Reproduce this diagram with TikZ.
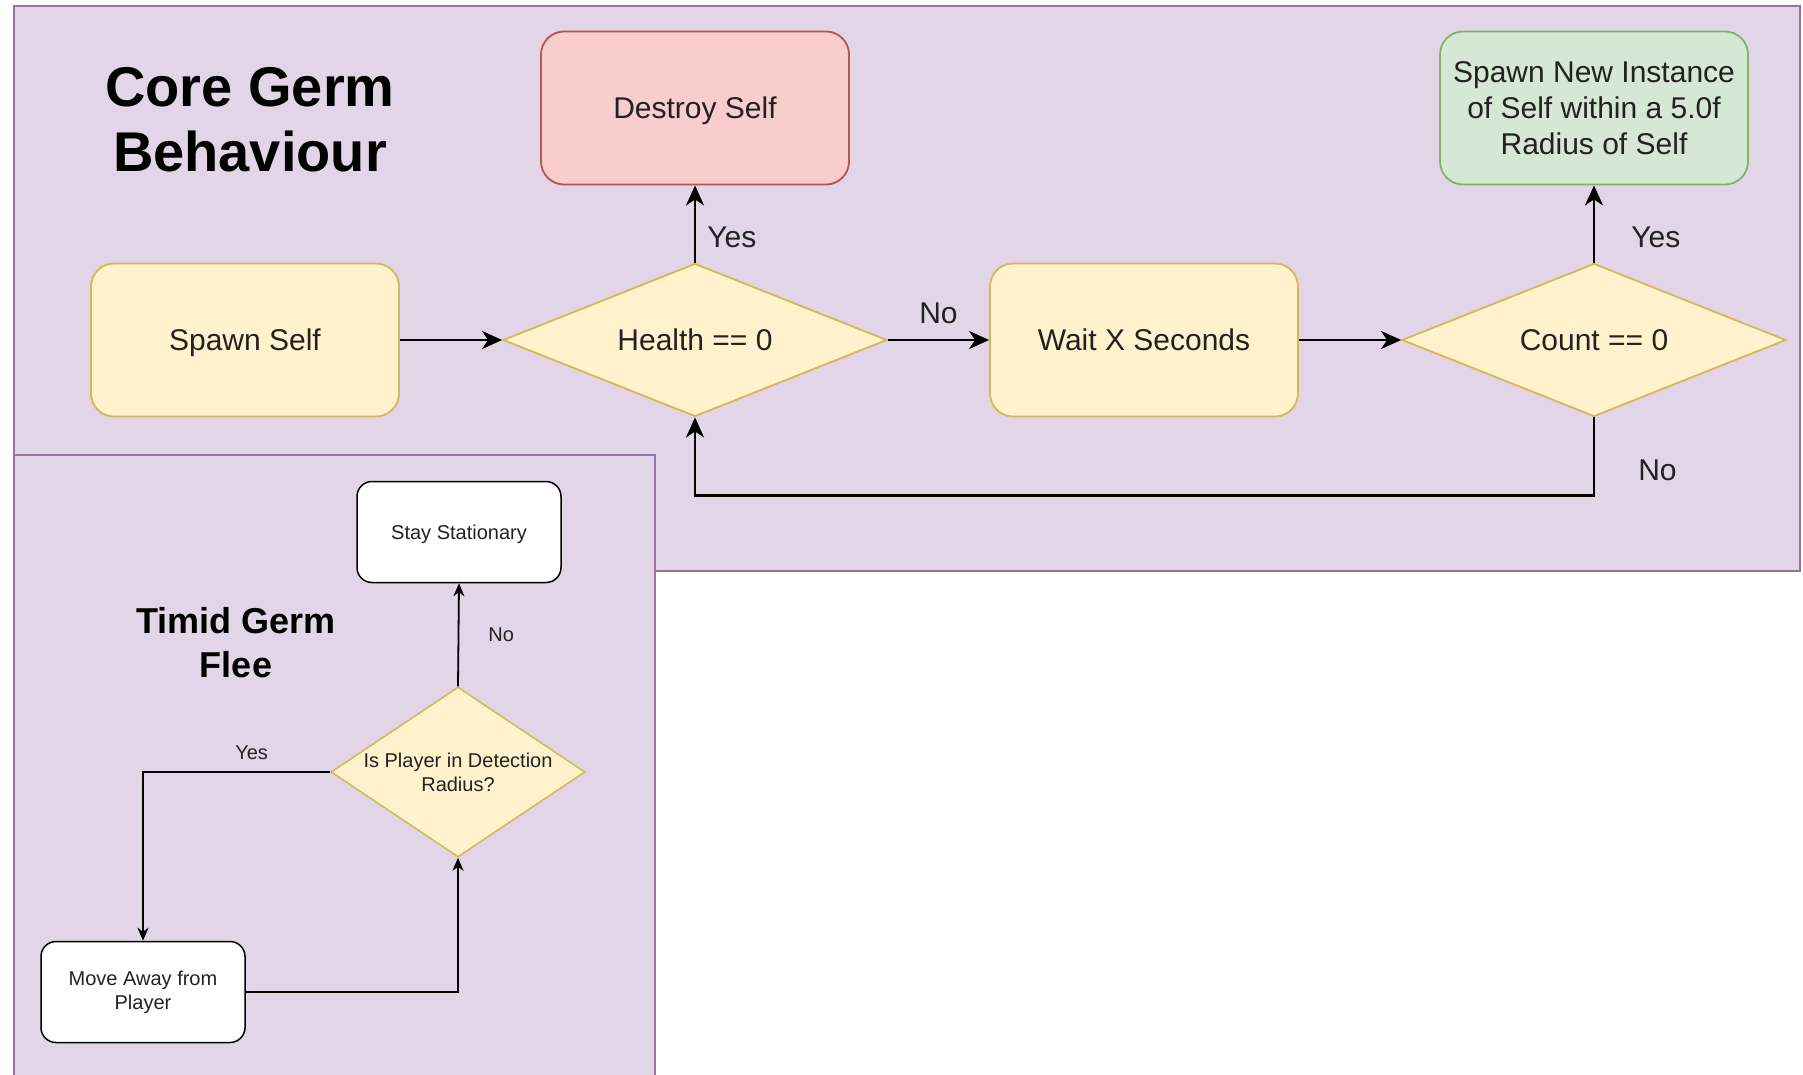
\documentclass[tikz,border=0pt]{standalone}
\usepackage{fontspec}
\setmainfont{Liberation Sans}
\usetikzlibrary{shapes.geometric,arrows.meta}
\definecolor{purpF}{HTML}{E1D5E7}
\definecolor{purpD}{HTML}{9673A6}
\definecolor{yelF}{HTML}{FFF2CC}
\definecolor{yelD}{HTML}{D6B656}
\definecolor{redF}{HTML}{F8CECC}
\definecolor{redD}{HTML}{B85450}
\definecolor{grnF}{HTML}{D5E8D4}
\definecolor{grnD}{HTML}{82B366}
\definecolor{txt}{HTML}{222222}
\tikzset{
  panel/.style={fill=purpF,draw=purpD,line width=1.6pt},
  bigbox/.style={rectangle,rounded corners=23pt,line width=1.8pt,minimum width=308pt,minimum height=153pt,
    align=center,text=txt,font=\fontsize{30}{36}\selectfont,inner sep=0pt},
  bigdia/.style={diamond,shape aspect=2.5,fill=yelF,draw=yelD,line width=1.8pt,minimum width=384pt,minimum height=153pt,
    align=center,text=txt,font=\fontsize{30}{36}\selectfont,inner sep=0pt},
  smallbox/.style={rectangle,rounded corners=15pt,fill=white,draw=black,line width=1.5pt,minimum width=204pt,minimum height=101pt,
    align=center,text=txt,font=\fontsize{20}{24}\selectfont,inner sep=0pt},
  smalldia/.style={diamond,shape aspect=1.5,fill=yelF,draw=yelD,line width=1.5pt,minimum width=254pt,minimum height=170pt,
    align=center,text=txt,font=\fontsize{20}{24}\selectfont,inner sep=0pt},
  bigline/.style={text height=21.5pt,text depth=0pt},
  smallline/.style={text height=14.3pt,text depth=0pt},
  bigarr/.style={draw=black,line width=2.6pt,-{Stealth[length=20pt,width=18pt,inset=6pt]}},
  smallarr/.style={draw=black,line width=1.8pt,-{Stealth[length=13pt,width=11pt,inset=4pt]}},
  biglbl/.style={text=txt,font=\fontsize{30}{36}\selectfont,inner sep=0pt},
  smalllbl/.style={text=txt,font=\fontsize{20}{24}\selectfont,inner sep=0pt},
  titlelbl/.style={text=black,font=\bfseries,align=center,inner sep=0pt}
}
\begin{document}
\begin{tikzpicture}[x=1pt,y=-1pt]
\useasboundingbox (0,0) rectangle (1803,1074);
\fill[white] (0,0) rectangle (1803,1074);
% panels
\draw[panel] (14,6) rectangle (1800,571);
\draw[panel] (14,455) rectangle (655,1085);

% core germ
\node[titlelbl,font=\bfseries\fontsize{56}{65}\selectfont] (coretitle) at (250,120) {Core Germ\\Behaviour};
\node[bigbox,bigline,fill=redF,draw=redD] (destroy) at (695,108) {Destroy Self};
\node[bigbox,bigline,fill=yelF,draw=yelD] (spawn) at (245,340) {Spawn Self};
\node[bigdia,bigline] (health) at (695,340) {Health == 0};
\node[bigbox,bigline,fill=yelF,draw=yelD] (wait) at (1144,340) {Wait X Seconds};
\node[bigdia,bigline] (count) at (1594,340) {Count == 0};
\node[bigbox,fill=grnF,draw=grnD] (spawnnew) at (1594,108) {Spawn New Instance\\of Self within a 5.0f\\Radius of Self};

\draw[bigarr] (spawn.east) -- (health.west);
\draw[bigarr] (health.east) -- node[biglbl,above=15pt] (nohealth) {No} (wait.west);
\draw[bigarr] (wait.east) -- (count.west);
\draw[bigarr] (health.north) -- node[biglbl,pos=0.33,right=11pt] (yeshealth) {Yes} (destroy.south);
\draw[bigarr] (count.north) -- node[biglbl,pos=0.33,right=36pt] (yescount) {Yes} (spawnnew.south);
\draw[bigarr] (count.south) -- ++(0,78) node[biglbl,pos=0.68,right=43pt] (nocount) {No} -| (health.south);

% timid germ
\node[titlelbl,font=\bfseries\fontsize{36}{44}\selectfont] (timidtitle) at (236,643) {Timid Germ\\Flee};
\node[smallbox,smallline] (stay) at (459,532) {Stay Stationary};
\node[smalldia] (detect) at (458,772) {Is Player in Detection\\Radius?};
\node[smallbox] (move) at (143,992) {Move Away from\\Player};

\draw[smallarr] (detect.north) -- node[smalllbl,right=29pt] (nodetect) {No} (stay.south);
\draw[smallarr] (detect.west) -| node[smalllbl,pos=0.21,above=11pt] (yesdetect) {Yes} (move.north);
\draw[smallarr] (move.east) -| (detect.south);
\end{tikzpicture}
\end{document}
